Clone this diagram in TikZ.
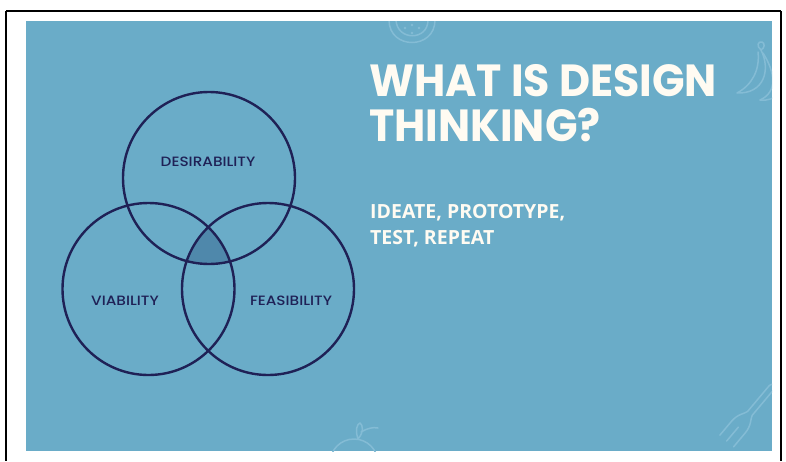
\documentclass[tikz,border=0pt]{standalone}
\usepackage{fontspec}
\setmainfont{Poppins}
\newfontfamily\titlefont{Poppins}[UprightFont=* Bold]
\newfontfamily\subfont{Open Sans}[UprightFont=* Bold]
\newfontfamily\labelfont{Poppins}[UprightFont=* Medium]
\definecolor{slide}{HTML}{6AACC8}
\definecolor{navy}{HTML}{1F2156}
\definecolor{core}{HTML}{4F88AB}
\definecolor{cream}{HTML}{FFFBF2}
\definecolor{doodle}{HTML}{84BCD5}
\newcommand{\wide}[1]{\scalebox{1.13}[1]{#1}}
\newcommand{\narrow}[1]{\scalebox{0.95}[1]{#1}}
\tikzset{
  ring/.style={circle, draw=navy, line width=2.4pt, minimum size=172pt, inner sep=0pt},
  ringlabel/.style={text=navy, font=\labelfont\fontsize{13.5}{15}\selectfont, inner sep=0pt},
  doodleline/.style={draw=doodle, line width=1.5pt, line cap=round, line join=round},
  titletext/.style={text=cream, anchor=base west, inner sep=0pt, font=\titlefont\fontsize{45}{48}\selectfont},
  subtext/.style={text=cream, anchor=base west, inner sep=0pt, font=\subfont\fontsize{19.5}{22}\selectfont}
}
\begin{document}
\begin{tikzpicture}[x=1pt,y=-1pt]
\useasboundingbox (0,0) rectangle (786,461);
% frame and slide
\draw[black, line width=2.4pt] (6,11) -- (781,11);
\draw[black, line width=2pt] (6,11) -- (6,461);
\draw[black, line width=2pt] (781,11) -- (781,461);
\fill[slide] (26,21) rectangle (772,451);

% faint doodles in the corners
\begin{scope}
\clip (26,21) rectangle (772,451);
% melon slice
\draw[doodleline] (389,20) .. controls (389,50) and (435,50) .. (435,20);
\draw[doodleline] (396,20) .. controls (397,41) and (428,41) .. (428,20);
\fill[doodle] (405,28) circle[radius=1.3pt] (412,33) circle[radius=1.3pt] (419,28) circle[radius=1.3pt] (412,25) circle[radius=1.3pt];
% bananas
\draw[doodleline] (761,50) .. controls (771,70) and (764,94) .. (737,93)
  .. controls (752,85) and (760,70) .. (758,52);
\draw[doodleline] (761,50) .. controls (756,46) and (758,41) .. (762,42) .. controls (765,43) and (765,48) .. (761,50);
\draw[doodleline] (763,53) .. controls (775,72) and (778,92) .. (760,100);
\draw[doodleline] (760,100) .. controls (768,101) and (774,98) .. (778,95);
% apple
\draw[doodleline] (354,463) circle[radius=24pt];
\draw[doodleline] (358,439) .. controls (355,430) and (357,424) .. (360,423) .. controls (363,425) and (364,432) .. (358,439);
\draw[doodleline] (361,432) .. controls (368,428) and (373,427) .. (378,428);
% fork
\begin{scope}[shift={(746,418)}, rotate=50]
\draw[doodleline] (-30,0) -- (-12,0);
\draw[doodleline] (-30,-9) -- (-12,-9) .. controls (-2,-9) and (2,-4) .. (6,-3) -- (40,-3) .. controls (44,-3) and (44,3) .. (40,3) -- (6,3) .. controls (2,4) and (-2,9) .. (-12,9) -- (-30,9);
\end{scope}
\end{scope}

% shaded core where all three sets meet
\begin{scope}
\clip (209,178) circle[radius=86pt];
\clip (148.5,289) circle[radius=86pt];
\fill[core] (268,289) circle[radius=86pt];
\end{scope}

% the three sets
\node[ring] (des) at (209,178) {};
\node[ring] (via) at (148.5,289) {};
\node[ring] (fea) at (268,289) {};
\node[ringlabel] (deslbl) at (208,161.5) {\wide{DESIRABILITY}};
\node[ringlabel] (vialbl) at (125,301) {\wide{VIABILITY}};
\node[ringlabel] (fealbl) at (291,301) {\wide{FEASIBILITY}};

% headline and tagline
\node[titletext] (t1) at (369,96.5) {\narrow{WHAT IS DESIGN}};
\node[titletext] (t2) at (369,141.5) {\narrow{THINKING?}};
\node[subtext] (s1) at (370,218.3) {IDEATE, PROTOTYPE,};
\node[subtext] (s2) at (370,244) {TEST, REPEAT};
\end{tikzpicture}
\end{document}
